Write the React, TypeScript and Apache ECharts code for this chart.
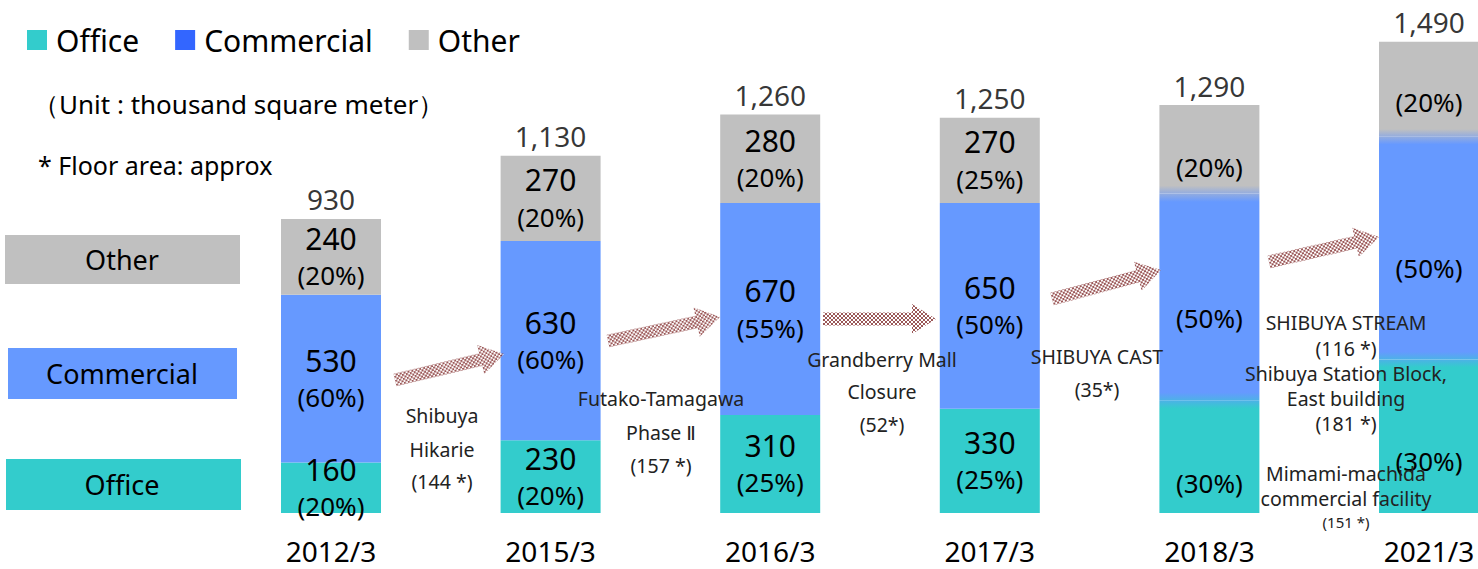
import React, { useEffect, useRef } from "react";
import * as echarts from "echarts";

const categories = ["2012/3", "2015/3", "2016/3", "2017/3", "2018/3", "2021/3"];
const office = [160, 230, 310, 330, 355, 485];
const commercial = [530, 630, 670, 650, 655, 705];
const other = [240, 270, 280, 270, 280, 300];
const totals = [930, 1130, 1260, 1250, 1290, 1490];
const officePct = [20, 20, 25, 25, 30, 30];
const commercialPct = [60, 60, 55, 50, 50, 50];
const otherPct = [20, 20, 20, 25, 20, 20];
const showValue = [true, true, true, true, false, false];

const notes = [
  { x: 442, lines: [["Shibuya", 415], ["Hikarie", 449], ["(144 *)", 481]] },
  { x: 661, lines: [["Futako-Tamagawa", 398], ["Phase Ⅱ", 432], ["(157 *)", 465]] },
  { x: 882, lines: [["Grandberry Mall", 359], ["Closure", 391], ["(52*)", 424]] },
  { x: 1097, lines: [["SHIBUYA CAST", 356], ["(35*)", 389]] },
  {
    x: 1346,
    lines: [
      ["SHIBUYA STREAM", 322],
      ["(116 *)", 348],
      ["Shibuya Station Block,", 373],
      ["East building", 398],
      ["(181 *)", 423],
      ["Mimami-machida", 473],
      ["commercial facility", 498],
    ],
  },
];

const OFFICE = "#33CCCC";
const COMM = "#6699FF";
const OTHER = "#C0C0C0";
const MIX_OC = "#4CB2E6";
const MIX_CG = "#93ACDF";
const FONT = '"Noto Sans", "DejaVu Sans", sans-serif';

const lateOffsets: Record<string, number[]> = {
  office: [26, 25],
  commercial: [21, 20],
  other: [18, 13],
};

function grad(stops: [number, string][]) {
  return new echarts.graphic.LinearGradient(
    0, 0, 0, 1,
    stops.map(([offset, color]) => ({ offset, color }))
  );
}

function buildData(key: string, values: number[]) {
  return values.map((v, i) => {
    const item: any = { value: v };
    if (!showValue[i]) {
      const li = i - 4;
      item.label = { offset: [0, lateOffsets[key][li]] };
      if (key === "office") {
        const f = li === 0 ? 0.07 : 0.05;
        item.itemStyle = { color: grad([[0, MIX_OC], [f, OFFICE], [1, OFFICE]]) };
      } else if (key === "commercial") {
        const f = li === 0 ? 0.04 : 0.035;
        item.itemStyle = {
          color: grad([[0, MIX_CG], [f, COMM], [1 - f, COMM], [1, MIX_OC]]),
        };
      } else {
        const f = li === 0 ? 0.09 : 0.08;
        item.itemStyle = { color: grad([[0, OTHER], [1 - f, OTHER], [1, MIX_CG]]) };
      }
    }
    return item;
  });
}

function labelFmt(values: number[], pcts: number[]) {
  return (p: any) =>
    showValue[p.dataIndex]
      ? `{v|${values[p.dataIndex]}}\n{p|(${pcts[p.dataIndex]}%)}`
      : `{p|(${pcts[p.dataIndex]}%)}`;
}

const arrowPattern =
  "data:image/svg+xml;utf8," +
  encodeURIComponent(
    "<svg xmlns='http://www.w3.org/2000/svg' width='4' height='4'><rect width='4' height='4' fill='#ffffff'/><rect width='2' height='2' fill='#7a2020'/><rect x='2' y='2' width='2' height='2' fill='#7a2020'/></svg>"
  );

function arrow(x1: number, y1: number, x2: number, y2: number) {
  const dx = x2 - x1;
  const dy = y2 - y1;
  const L = Math.sqrt(dx * dx + dy * dy);
  const rot = Math.atan2(-dy, dx);
  const hl = 24, sh = 6.5, hh = 15;
  return {
    type: "group",
    x: x1,
    y: y1,
    rotation: rot,
    silent: true,
    z: 90,
    children: [
      {
        type: "polygon",
        z: 90,
        shape: {
          points: [
            [0, -sh], [L - hl, -sh], [L - hl, -hh], [L, 0],
            [L - hl, hh], [L - hl, sh], [0, sh],
          ],
        },
        style: {
          fill: { image: arrowPattern, repeat: "repeat" },
          opacity: 0.75,
        },
      },
    ],
  };
}

export default function App() {
  const ref = useRef<HTMLDivElement>(null);
  useEffect(() => {
    if (!ref.current) return;
    const chart = echarts.init(ref.current, null, { renderer: "svg" });

    const boxes = [
      { y: 235, h: 49, x: 5, w: 235, color: OTHER, text: "Other" },
      { y: 348, h: 51, x: 8, w: 229, color: COMM, text: "Commercial" },
      { y: 459, h: 51, x: 6, w: 235, color: OFFICE, text: "Office" },
    ];

    const graphic: any[] = [];
    boxes.forEach((b) => {
      graphic.push({
        type: "rect",
        shape: { x: b.x, y: b.y, width: b.w, height: b.h },
        style: { fill: b.color },
        silent: true,
      });
      graphic.push({
        type: "text",
        x: 122,
        y: b.y + b.h / 2,
        style: {
          text: b.text,
          fontSize: 27,
          fontFamily: FONT,
          fill: "#000",
          textAlign: "center",
          textVerticalAlign: "middle",
        },
      });
    });
    graphic.push({
      type: "text",
      x: 33,
      y: 104,
      style: {
        text: "（Unit : thousand square meter）",
        fontSize: 26,
        fontFamily: FONT,
        fill: "#000",
        textVerticalAlign: "middle",
      },
    });
    graphic.push({
      type: "text",
      x: 38,
      y: 165,
      style: {
        text: "* Floor area: approx",
        fontSize: 25,
        fontFamily: FONT,
        fill: "#000",
        textVerticalAlign: "middle",
      },
    });
    graphic.push(arrow(395, 380, 504, 354));
    graphic.push(arrow(608, 341, 720, 317));
    graphic.push(arrow(823, 319, 936, 319));
    graphic.push(arrow(1052, 299, 1161, 270));
    graphic.push(arrow(1269, 262, 1379, 237));
    notes.forEach((n) => {
      n.lines.forEach(([t, y]) => {
        graphic.push({
          type: "text",
          x: n.x,
          y: y as number,
          z: 100,
          style: {
            text: t as string,
            fontSize: 19.5,
            fontFamily: FONT,
            fill: "#222",
            textAlign: "center",
            textVerticalAlign: "middle",
          },
        });
      });
    });
    graphic.push({
      type: "text",
      x: 1346,
      y: 522,
      z: 100,
      style: {
        text: "(151 *)",
        fontSize: 15,
        fontFamily: FONT,
        fill: "#222",
        textAlign: "center",
        textVerticalAlign: "middle",
      },
    });

    const barLabel = (vals: number[], pcts: number[]) => ({
      show: true,
      position: "inside",
      formatter: labelFmt(vals, pcts),
      fontFamily: FONT,
      color: "#000",
      rich: {
        v: { fontSize: 30, lineHeight: 37, fontFamily: FONT, color: "#000" },
        p: { fontSize: 26, lineHeight: 37, fontFamily: FONT, color: "#000" },
      },
    });

    chart.setOption({
      animation: false,
      textStyle: { fontFamily: FONT },
      legend: {
        left: 27,
        top: 25,
        padding: 0,
        itemWidth: 20,
        itemHeight: 20,
        itemGap: 36,
        icon: "rect",
        textStyle: { fontSize: 30, color: "#000", fontFamily: FONT, padding: [0, 0, 0, 4] },
        data: [
          { name: "Office", itemStyle: { color: OFFICE } },
          { name: "Commercial", itemStyle: { color: "#3366FF" } },
          { name: "Other", itemStyle: { color: OTHER } },
        ],
      },
      grid: { left: 331, right: 49, top: 7, bottom: 56, containLabel: false },
      xAxis: {
        type: "category",
        data: categories,
        boundaryGap: false,
        axisLine: { show: false },
        axisTick: { show: false },
        axisLabel: { fontSize: 28, color: "#000", margin: 24, fontFamily: FONT },
      },
      yAxis: { type: "value", min: 0, max: 1600, show: false, splitLine: { show: false } },
      graphic,
      series: [
        {
          name: "Office",
          type: "bar",
          stack: "a",
          barWidth: 100,
          clip: false,
          itemStyle: { color: OFFICE },
          label: barLabel(office, officePct),
          data: buildData("office", office),
        },
        {
          name: "Commercial",
          type: "bar",
          stack: "a",
          barWidth: 100,
          clip: false,
          itemStyle: { color: COMM },
          label: barLabel(commercial, commercialPct),
          data: buildData("commercial", commercial),
        },
        {
          name: "Other",
          type: "bar",
          stack: "a",
          barWidth: 100,
          clip: false,
          itemStyle: { color: OTHER },
          label: barLabel(other, otherPct),
          data: buildData("other", other),
        },
        {
          name: "Total",
          type: "scatter",
          symbol: "rect",
          symbolSize: [1, 1],
          clip: false,
          itemStyle: { color: "rgba(0,0,0,0)" },
          label: {
            show: true,
            position: "top",
            distance: 5,
            fontSize: 28,
            fontFamily: FONT,
            color: "#000",
            formatter: (p: any) => totals[p.dataIndex].toLocaleString("en-US"),
          },
          data: totals,
        },
      ],
    });
    return () => chart.dispose();
  }, []);
  return (
    <div
      ref={ref}
      style={{ position: "absolute", left: 0, top: 0, width: 1478, height: 569 }}
    />
  );
}
